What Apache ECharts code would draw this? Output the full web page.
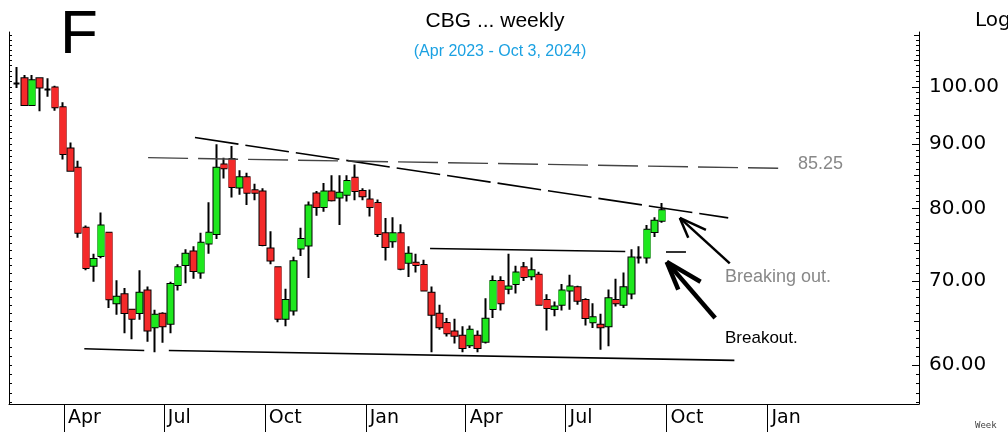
<!DOCTYPE html>
<html>
<head>
<meta charset="utf-8">
<title>CBG weekly</title>
<script src="https://cdn.jsdelivr.net/npm/echarts@6/dist/echarts.min.js"></script>
<style>
html, body { margin: 0; padding: 0; background: #fff; }
#chart { width: 1008px; height: 432px; }
</style>
</head>
<body>
<div id="chart"></div>
<script>
// weekly candles, the first one is the week of 17 Feb 2023
const firstWeek = '2023-02-17'

const opens = [
  100.6, 101.6, 96.7, 101.6, 99.5, 99.9, 96.3, 89.3, 86.2, 77.2,
  72.0, 73.3, 76.5, 67.2, 68.3, 66.4, 66.0, 68.8, 64.3, 65.9,
  64.7, 69.5, 72.1, 73.9, 71.1, 75.0, 76.3, 86.7, 87.6, 83.1,
  84.7, 82.7, 82.5, 74.3, 71.8, 65.3, 66.3, 74.3, 74.7, 82.2,
  80.2, 82.5, 81.6, 82.0, 84.6, 82.6, 81.3, 80.8, 76.4, 75.3,
  76.4, 72.4, 72.4, 72.1, 68.5, 65.9, 64.8, 63.8, 63.3, 62.2,
  63.3, 62.6, 66.5, 70.0, 69.0, 69.6, 71.8, 70.6, 70.8, 67.6,
  66.5, 67.0, 68.8, 69.2, 67.6, 64.9, 64.6, 64.4, 67.6, 67.0,
  68.4, 73.1, 73.1, 76.6, 78.2
]
const closes = [
  100.6, 96.7, 101.2, 99.9, 99.5, 96.3, 88.4, 85.7, 76.5, 71.7,
  72.9, 77.5, 67.7, 68.0, 66.0, 65.3, 68.5, 63.9, 65.8, 64.4,
  69.6, 71.8, 73.6, 71.3, 75.1, 76.5, 86.2, 86.1, 83.2, 84.7,
  82.3, 82.3, 74.8, 72.7, 65.3, 67.6, 72.6, 75.6, 80.4, 80.2,
  82.5, 81.2, 82.3, 84.1, 82.6, 81.8, 80.2, 76.3, 74.5, 76.4,
  71.6, 73.6, 72.1, 68.8, 65.8, 64.3, 63.6, 63.3, 61.9, 64.0,
  61.9, 65.3, 70.0, 67.2, 69.3, 71.1, 70.5, 71.4, 67.0, 66.6,
  66.8, 68.8, 69.3, 67.5, 65.4, 65.5, 64.3, 67.8, 67.2, 69.2,
  73.1, 73.1, 76.9, 78.2, 79.7
]
const lows = [
  99.8, 96.6, 96.6, 95.6, 98.2, 95.7, 87.5, 85.6, 75.8, 71.4,
  69.9, 73.0, 66.6, 65.8, 63.6, 62.9, 65.2, 62.6, 61.4, 62.5,
  63.6, 68.8, 69.7, 70.3, 70.3, 73.6, 75.6, 84.5, 81.6, 82.0,
  80.5, 81.2, 74.6, 72.2, 64.9, 64.4, 65.7, 73.3, 70.4, 78.9,
  79.5, 81.0, 77.6, 81.0, 81.2, 81.2, 78.8, 75.9, 72.7, 74.4,
  71.4, 70.5, 71.1, 68.7, 61.4, 64.0, 63.2, 62.4, 61.4, 61.9,
  61.4, 62.4, 65.4, 66.3, 68.3, 68.4, 70.0, 70.1, 66.9, 63.9,
  65.6, 66.3, 66.4, 67.0, 64.5, 64.2, 61.7, 62.1, 66.8, 66.6,
  67.7, 72.3, 72.3, 75.9, 77.9
]
const highs = [
  103.7, 102.2, 102.2, 101.7, 101.6, 100.2, 97.2, 90.3, 87.3, 77.5,
  73.6, 79.4, 76.6, 70.1, 69.1, 66.5, 71.4, 69.3, 66.4, 66.1,
  69.9, 72.2, 74.2, 74.6, 76.5, 80.9, 90.0, 87.8, 89.7, 85.8,
  85.4, 83.7, 83.0, 76.7, 71.9, 69.0, 73.2, 77.2, 81.0, 82.6,
  83.8, 85.0, 85.0, 85.0, 86.7, 83.0, 82.8, 81.3, 78.6, 78.7,
  77.7, 74.6, 73.6, 72.8, 69.3, 67.0, 65.4, 65.3, 64.4, 64.5,
  63.9, 67.8, 70.7, 70.6, 73.6, 72.0, 72.5, 73.1, 71.2, 68.3,
  67.4, 69.6, 70.8, 69.4, 67.8, 67.2, 65.9, 68.9, 70.3, 71.1,
  74.2, 74.6, 77.6, 78.7, 80.8
]

const priceLabels = [60, 70, 80, 90, 100]
const quarterStarts = ['2023-04-01', '2023-07-01', '2023-10-01', '2024-01-01',
  '2024-04-01', '2024-07-01', '2024-10-01', '2025-01-01']
const monthNames = ['Jan', 'Feb', 'Mar', 'Apr', 'May', 'Jun', 'Jul', 'Aug', 'Sep', 'Oct', 'Nov', 'Dec']

// drawn lines, points are [weeks after first candle, price]
const resistance = [[23.2, 91.1], [92.6, 78.6]]
const level8525 = [[17.1, 87.8], [99.1, 86.1]]
const neckline = [[53.8, 74.3], [79.2, 73.9]]
const necklineStub = [[84.5, 73.8], [87.1, 73.8]]
const supportLeft = [[8.8, 61.8], [16.6, 61.6]]
const supportRight = [[19.8, 61.6], [93.4, 60.5]]
// arrows: tail, tip, two head ends
const arrowBreakingOut = [[92.8, 72.3], [86.3, 78.6], [87.4, 75.8], [89.7, 76.9]]
const arrowBreakout = [[90.9, 65.4], [84.6, 72.5], [86.1, 68.9], [89.0, 69.9]]

const DAY = 86400000
const t0 = Date.parse(firstWeek)
const weekTime = w => t0 + w * 7 * DAY

const candles = opens.map((o, i) => [weekTime(i), o, closes[i], lows[i], highs[i]])

// tick values for the price axes
const oneSteps = []
const fiveSteps = []
for (let p = 56; p <= 110; p++) {
  oneSteps.push(p)
  if (p % 5 === 0) fiveSteps.push(p)
}

const yMin = 55.84
const yMax = 110.6

const seg = (pts, style) => [
  { coord: [weekTime(pts[0][0]), pts[0][1]], lineStyle: style },
  { coord: [weekTime(pts[1][0]), pts[1][1]] }
]
const arrowSegs = (a, width) => {
  const s = { color: '#000', width: width, type: 'solid' }
  return [
    seg([a[0], a[1]], s),
    seg([a[1], a[2]], s),
    seg([a[1], a[3]], s)
  ]
}

const solid = { color: '#000', width: 1.6, type: 'solid' }

const chart = echarts.init(document.getElementById('chart'))

const priceAxis = (extra) => Object.assign({
  type: 'log',
  logBase: 10,
  min: yMin,
  max: yMax,
  position: 'right',
  splitLine: { show: false },
  axisLine: { show: false },
  axisLabel: { show: false },
  axisTick: { show: false }
}, extra)

chart.setOption({
  animation: false,
  backgroundColor: '#fff',
  grid: { left: 9, right: 89, top: 32, bottom: 28, outerBoundsMode: 'none' },
  xAxis: {
    type: 'value',
    min: Date.UTC(2023, 1, 10),
    max: Date.UTC(2025, 4, 19),
    splitLine: { show: false },
    axisLine: { show: true, onZero: false, lineStyle: { color: '#000', width: 1 } },
    axisTick: {
      show: true,
      customValues: quarterStarts.map(d => Date.parse(d)),
      length: 28,
      lineStyle: { color: '#000', width: 1 }
    },
    axisLabel: {
      customValues: quarterStarts.map(d => Date.parse(d)),
      formatter: v => monthNames[new Date(v).getUTCMonth()],
      align: 'left',
      padding: [0, 0, 0, 4],
      margin: 5,
      color: '#000',
      fontFamily: 'DejaVu Sans',
      fontSize: 19
    }
  },
  yAxis: [
    priceAxis({
      axisLine: { show: true, onZero: false, lineStyle: { color: '#000', width: 1 } },
      axisTick: { show: true, inside: true, customValues: priceLabels, length: 7, lineStyle: { color: '#000' } },
      axisLabel: {
        show: true,
        customValues: priceLabels,
        formatter: v => v.toFixed(2),
        margin: 10,
        color: '#000',
        fontFamily: 'DejaVu Sans',
        fontSize: 20
      }
    }),
    priceAxis({
      axisTick: { show: true, inside: true, customValues: fiveSteps, length: 5, lineStyle: { color: '#000' } }
    }),
    priceAxis({
      axisTick: { show: true, inside: true, customValues: oneSteps, length: 3, lineStyle: { color: '#000' } }
    }),
    priceAxis({
      position: 'left',
      axisLine: { show: true, onZero: false, lineStyle: { color: '#000', width: 1 } },
      axisTick: { show: true, inside: true, customValues: oneSteps, length: 3, lineStyle: { color: '#000' } }
    })
  ],
  series: [
    {
      // black layer: wicks and doji bars
      type: 'candlestick',
      yAxisIndex: 0,
      barWidth: 6,
      data: candles,
      itemStyle: {
        color: '#000', color0: '#000',
        borderColor: '#000', borderColor0: '#000', borderColorDoji: '#000',
        borderWidth: 2
      },
      markLine: {
        silent: true,
        symbol: ['none', 'none'],
        label: { show: false },
        emphasis: { disabled: true },
        data: [
          seg(resistance, { color: '#000', width: 1.6, type: [44, 7] }),
          seg(level8525, { color: '#444', width: 1.4, type: [40, 10] }),
          seg(neckline, solid),
          seg(necklineStub, solid),
          seg(supportLeft, solid),
          seg(supportRight, solid),
          ...arrowSegs(arrowBreakingOut, 2.5),
          ...arrowSegs(arrowBreakout, 4.5)
        ]
      }
    },
    {
      // coloured bodies on top, no outline so the black wicks stay
      type: 'candlestick',
      yAxisIndex: 0,
      barWidth: 7,
      data: candles,
      itemStyle: {
        color: '#1ee81e', color0: '#f42a2a',
        borderColor: '#1ee81e', borderColor0: '#f42a2a', borderColorDoji: '#000',
        borderWidth: 0
      }
    }
  ],
  graphic: [
    { type: 'text', x: 60, y: 36, style: { text: 'F', fill: '#000', font: '62px "Liberation Sans"', textVerticalAlign: 'middle' } },
    { type: 'text', x: 495, y: 21, style: { text: 'CBG ... weekly', fill: '#000', font: '21px "Liberation Sans"', textAlign: 'center', textVerticalAlign: 'middle' } },
    { type: 'text', x: 500, y: 52, style: { text: '(Apr 2023 - Oct 3, 2024)', fill: '#1ba1e2', font: '16px "Liberation Sans"', textAlign: 'center', textVerticalAlign: 'middle' } },
    { type: 'text', x: 975, y: 21, style: { text: 'Log', fill: '#000', font: '20px "DejaVu Sans"', textVerticalAlign: 'middle' } },
    { type: 'text', x: 798, y: 164, style: { text: '85.25', fill: '#888', font: '18px "Liberation Sans"', textVerticalAlign: 'middle' } },
    { type: 'text', x: 725, y: 277, style: { text: 'Breaking out.', fill: '#888', font: '18px "Liberation Sans"', textVerticalAlign: 'middle' } },
    { type: 'text', x: 725, y: 338, style: { text: 'Breakout.', fill: '#000', font: '17px "Liberation Sans"', textVerticalAlign: 'middle' } },
    { type: 'text', x: 975, y: 426, style: { text: 'Week', fill: '#444', font: '9px "DejaVu Sans Mono"', textVerticalAlign: 'middle' } }
  ]
})
</script>
</body>
</html>
